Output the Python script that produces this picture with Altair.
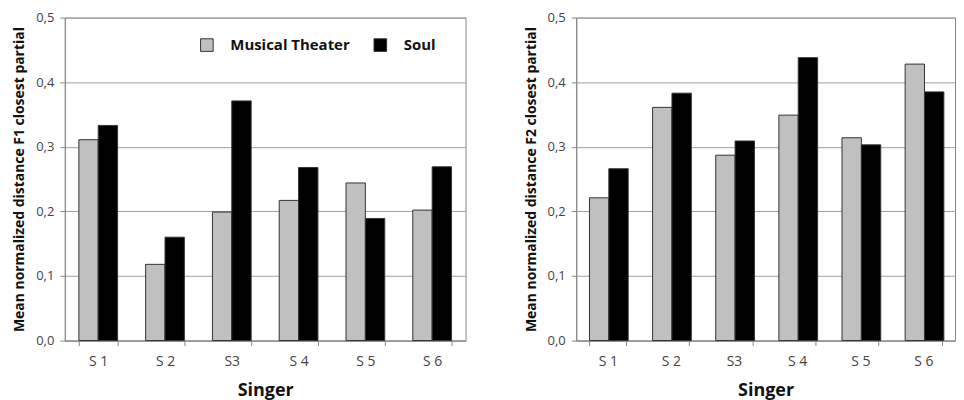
import altair as alt
import pandas as pd

singers_f1 = ["S 1", "S 2", "S3", "S 4", "S 5", "S 6"]
singers_f2 = ["S 1", "S 2", "S3", "S 4", "S 5", "S 6"]
styles = ["Musical Theater", "Soul"]
f1_mt = [0.311, 0.118, 0.199, 0.217, 0.244, 0.202]
f1_soul = [0.333, 0.160, 0.371, 0.268, 0.189, 0.269]
f2_mt = [0.221, 0.361, 0.287, 0.349, 0.314, 0.428]
f2_soul = [0.266, 0.383, 0.309, 0.438, 0.303, 0.385]
y_ticks = [0.0, 0.1, 0.2, 0.3, 0.4, 0.5]

def make_df(singers, mt, soul):
    rows = []
    for s, a, b in zip(singers, mt, soul):
        rows.append({"Singer": s, "Style": styles[0], "value": a})
        rows.append({"Singer": s, "Style": styles[1], "value": b})
    return pd.DataFrame(rows)

df1 = make_df(singers_f1, f1_mt, f1_soul)
df2 = make_df(singers_f2, f2_mt, f2_soul)

FONT = "Open Sans"
color_scale = alt.Scale(domain=styles, range=["#c0c0c0", "#000000"])

def panel(df, singers, ytitle, width, legend):
    return alt.Chart(df).mark_bar(stroke="#333333", strokeWidth=1).encode(
        x=alt.X("Singer:N", sort=singers,
                scale=alt.Scale(paddingInner=0.42, paddingOuter=0.21),
                axis=alt.Axis(title="Singer", labelAngle=0, tickBand="extent",
                              labelFont=FONT, labelFontSize=14, labelColor="#444444",
                              labelPadding=9, tickSize=5, tickColor="#888888",
                              domainColor="#888888", titleFont=FONT, titleFontSize=18,
                              titleFontWeight="bold", titleColor="#111111", titlePadding=13)),
        xOffset=alt.XOffset("Style:N", sort=styles),
        y=alt.Y("value:Q", scale=alt.Scale(domain=[0, 0.5], nice=False),
                axis=alt.Axis(title=ytitle, values=y_ticks,
                              labelExpr="replace(format(datum.value, '.1f'), '.', ',')",
                              labelFont=FONT, labelFontSize=13, labelColor="#444444",
                              labelPadding=6, tickSize=5, tickColor="#888888",
                              domainColor="#888888", gridColor="#a0a0a0",
                              titleFont=FONT, titleFontSize=14, titleFontWeight="bold",
                              titleColor="#111111", titlePadding=9)),
        color=alt.Color("Style:N", scale=color_scale, sort=styles, legend=legend),
    ).properties(width=width, height=324)

legend1 = alt.Legend(title=None, orient="none", legendX=135, legendY=20,
                     direction="horizontal", symbolType="square", symbolSize=160,
                     symbolStrokeColor="#333333", symbolStrokeWidth=1,
                     labelFont=FONT, labelFontSize=15, labelFontWeight="bold",
                     labelColor="#111111", columnPadding=22, labelOffset=16)

left = panel(df1, singers_f1, "Mean normalized distance F1  closest partial", 402, legend1)
right = panel(df2, singers_f2, "Mean normalized distance F2  closest partial", 380, None)

chart = alt.hconcat(left, right, spacing=57).resolve_legend(color="independent").properties(
    padding={"left": 4, "top": 2, "right": 0, "bottom": 0}
).configure_view(stroke="#888888")

chart.save("out.html", embed_options={"renderer": "svg", "actions": False})
